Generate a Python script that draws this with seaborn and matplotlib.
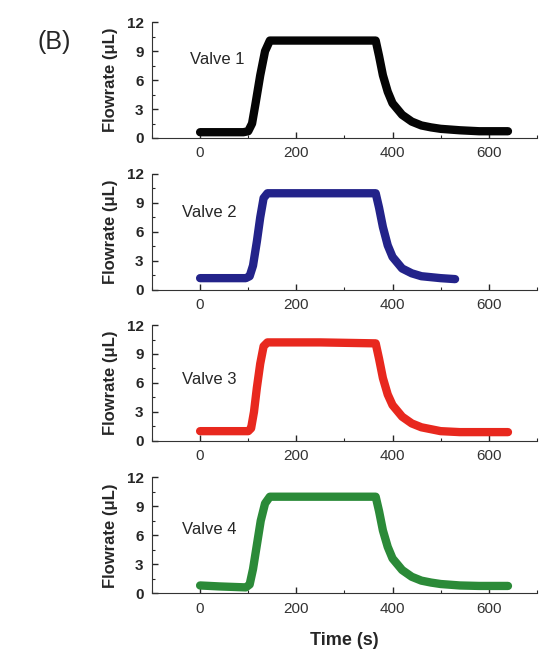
import matplotlib
matplotlib.use("Agg")
import matplotlib.pyplot as plt
import pandas as pd
import seaborn as sns
from matplotlib.ticker import MultipleLocator

# Flowrate traces (time in s, flowrate in uL)
t1 = [0, 90, 100, 108, 115, 125, 135, 145, 200, 300, 365, 372, 380, 390, 400, 420, 440, 460, 480, 500, 540, 580, 640]
v1 = [0.6, 0.6, 0.7, 1.5, 3.5, 6.5, 9.0, 10.1, 10.1, 10.1, 10.1, 8.5, 6.5, 4.8, 3.6, 2.4, 1.7, 1.3, 1.1, 0.95, 0.8, 0.7, 0.7]

t2 = [0, 95, 103, 110, 118, 125, 132, 140, 250, 365, 372, 380, 390, 400, 420, 440, 460, 480, 500, 530]
v2 = [1.2, 1.2, 1.4, 2.5, 5.0, 7.5, 9.5, 10.0, 10.0, 10.0, 8.5, 6.5, 4.6, 3.4, 2.2, 1.7, 1.4, 1.3, 1.2, 1.1]

t3 = [0, 100, 106, 112, 118, 125, 132, 140, 250, 365, 372, 380, 390, 400, 420, 440, 460, 480, 500, 540, 580, 640]
v3 = [1.0, 1.0, 1.3, 3.0, 5.5, 8.0, 9.8, 10.2, 10.2, 10.1, 8.5, 6.5, 4.8, 3.7, 2.5, 1.8, 1.4, 1.2, 1.0, 0.9, 0.9, 0.9]

t4 = [0, 40, 95, 103, 110, 118, 126, 135, 145, 250, 365, 372, 380, 390, 400, 420, 440, 460, 480, 500, 540, 580, 640]
v4 = [0.8, 0.7, 0.6, 0.9, 2.5, 5.0, 7.5, 9.3, 10.0, 10.0, 10.0, 8.5, 6.5, 4.8, 3.6, 2.4, 1.7, 1.3, 1.1, 0.95, 0.8, 0.75, 0.75]

labels = ["Valve 1", "Valve 2", "Valve 3", "Valve 4"]
colors = ["#050505", "#23238a", "#e8281e", "#2b8a38"]
label_pos = [(35, 8.1), (20, 8.0), (20, 6.4), (20, 6.6)]

sns.set_style("ticks")
plt.rcParams["font.family"] = ["Liberation Sans", "DejaVu Sans"]

fig = plt.figure(figsize=(5.39, 6.54), dpi=100)
bottoms = [0.789, 0.557, 0.326, 0.093]
series = [(t1, v1), (t2, v2), (t3, v3), (t4, v4)]

for i, ((t, v), b) in enumerate(zip(series, bottoms)):
    ax = fig.add_axes([0.282, b, 0.714, 0.177])
    df = pd.DataFrame({"time": t, "flow": v})
    sns.lineplot(data=df, x="time", y="flow", color=colors[i], linewidth=6, ax=ax)
    ax.set_xlim(-100, 700)
    ax.set_ylim(0, 12)
    ax.set_yticks([0, 3, 6, 9, 12])
    ax.set_xticks([0, 200, 400, 600])
    ax.xaxis.set_minor_locator(MultipleLocator(100))
    ax.yaxis.set_minor_locator(MultipleLocator(1.5))
    ax.tick_params(direction="in", length=4, width=1, labelsize=11, pad=6)
    ax.tick_params(which="minor", direction="in", length=2, width=0.8)
    for lab in ax.get_yticklabels():
        lab.set_fontweight("bold")
    for lab in ax.get_xticklabels():
        lab.set_color("#333333")
    sns.despine(ax=ax)
    ax.spines["left"].set_color("#333333")
    ax.spines["bottom"].set_color("#333333")
    ax.set_ylabel("Flowrate (\u03bcL)", fontsize=12, fontweight="bold", labelpad=6)
    ax.set_xlabel("")
    ax.text(label_pos[i][0], label_pos[i][1], labels[i], fontsize=12, ha="center", va="center")
    if i == 3:
        ax.set_xlabel("Time (s)", fontsize=13, fontweight="bold", labelpad=12)

fig.text(0.07, 0.936, "(B)", fontsize=18, ha="left", va="center")

plt.savefig("out.png", dpi=100)
